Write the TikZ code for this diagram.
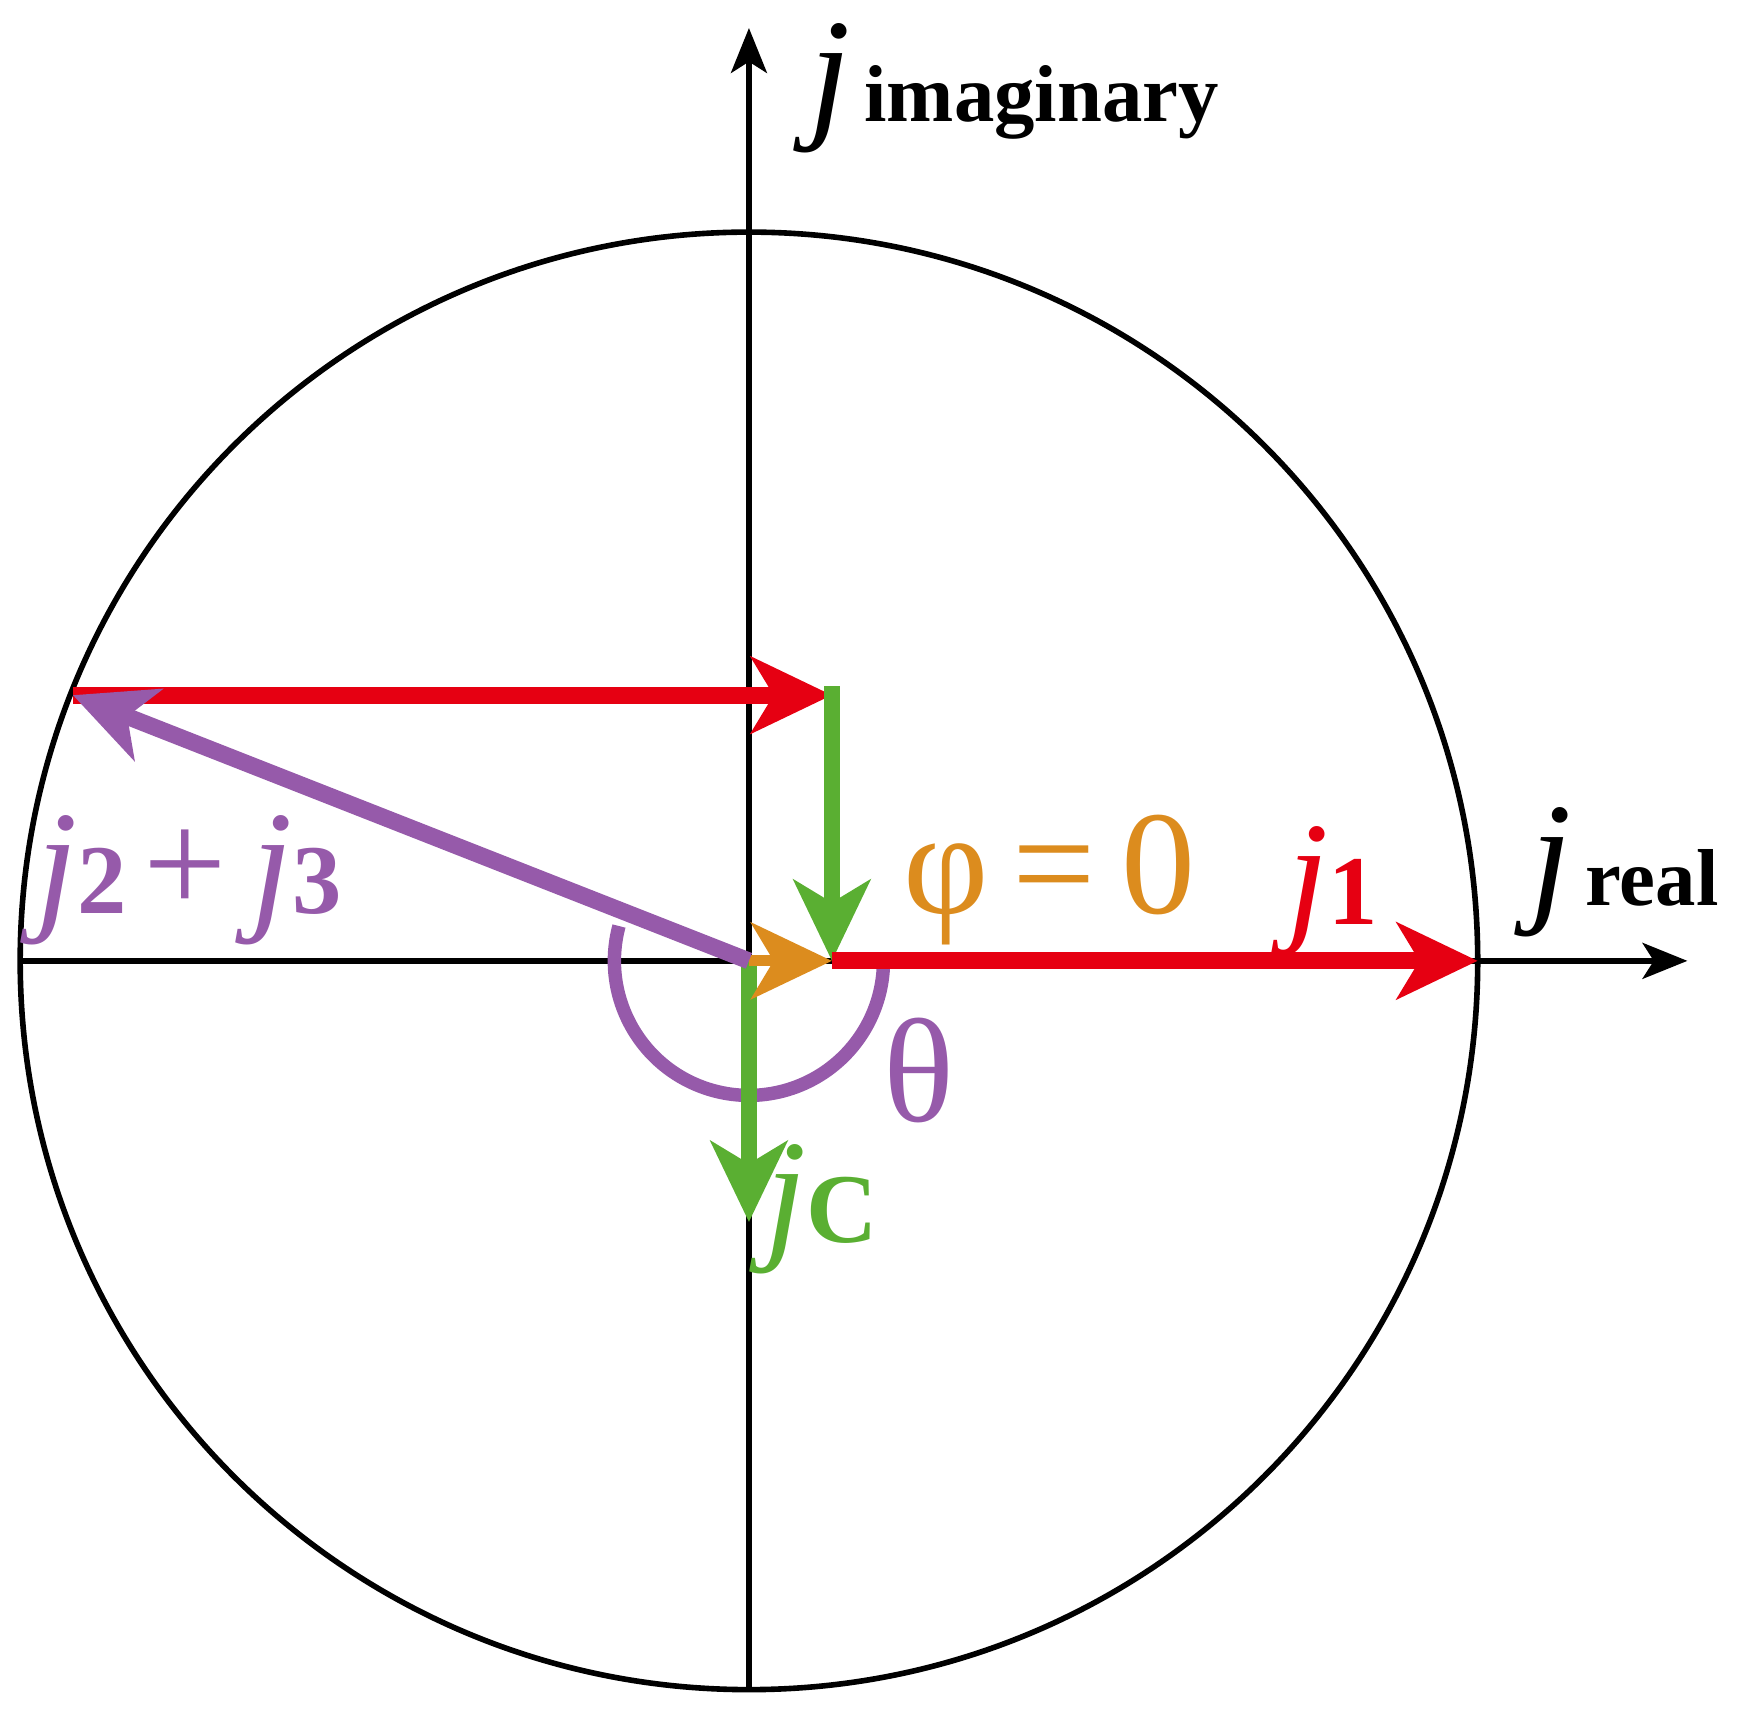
\documentclass[tikz,border=0pt]{standalone}
\usepackage{fontspec}
\setmainfont{Liberation Serif}
\usetikzlibrary{arrows.meta}
\definecolor{cred}{RGB}{230,0,18}
\definecolor{cgreen}{RGB}{90,175,50}
\definecolor{cpurple}{RGB}{150,90,170}
\definecolor{corange}{RGB}{220,140,30}
\newcommand{\bigj}{{\mdseries\fontsize{66}{66}\selectfont\textit{j}}}
\begin{document}
\begin{tikzpicture}[x=0.5pt,y=-0.5pt,
  axis/.style={line width=2.5pt,-{Stealth[length=20pt,width=16pt,inset=5pt]}},
  vec/.style={line width=7.5pt,-{Stealth[length=36pt,width=34pt,inset=10pt]}},
  lbl/.style={inner sep=0pt,font=\bfseries\fontsize{36}{40}\selectfont}]
\useasboundingbox (0,0) rectangle (1568,1528);
\coordinate (O) at (668,857);
\draw[line width=2.5pt] (O) circle[radius=650];
\coordinate (B) at (668,1507);
\coordinate (T) at (668,25);
\coordinate (L) at (18,857);
\coordinate (R) at (1505,857);
\draw[axis] (B) -- (T);
\draw[axis] (L) -- (R);
\node[lbl,anchor=base west] (im) at (722,108) {\bigj\,imaginary};
\node[lbl,anchor=base west] (re) at (1365,808) {\bigj\,real};
% vectors
\coordinate (P) at (65,620);
\coordinate (Q) at (742,620);
\coordinate (S) at (742,857);
\coordinate (E) at (1318,857);
\coordinate (C) at (668,1090);
\draw[cpurple,line width=6pt] (O) ++(195:120) arc[start angle=195,end angle=0,radius=120];
\draw[vec,cred] (P) -- (Q);
\draw[vec,cgreen,shorten <=-4pt] (Q) -- (S);
\draw[vec,cred] (S) -- (E);
\draw[vec,cgreen] (O) -- (C);
\draw[vec,corange,line width=5pt] (O) -- (S);
\draw[vec,cpurple] (O) -- (P);
% labels
\node[lbl,cred,anchor=base west] (j1) at (1148,825) {\bigj\fontsize{44}{44}\selectfont 1};
\node[lbl,cgreen,anchor=base west] (jc) at (682,1108) {\bigj\fontsize{44}{44}\selectfont C};
\node[lbl,cpurple,anchor=base west] (j23) at (32,815) {\bigj\fontsize{44}{44}\selectfont 2\,\mdseries\fontsize{66}{66}\selectfont+\,\bigj\bfseries\fontsize{44}{44}\selectfont 3};
\node[inner sep=0pt,corange,anchor=base west,font=\fontsize{66}{66}\selectfont] (phi) at (805,815) {φ\,=\,0};
\node[inner sep=0pt,cpurple,anchor=base west,font=\fontsize{66}{66}\selectfont] (th) at (788,1000) {θ};
\end{tikzpicture}
\end{document}
